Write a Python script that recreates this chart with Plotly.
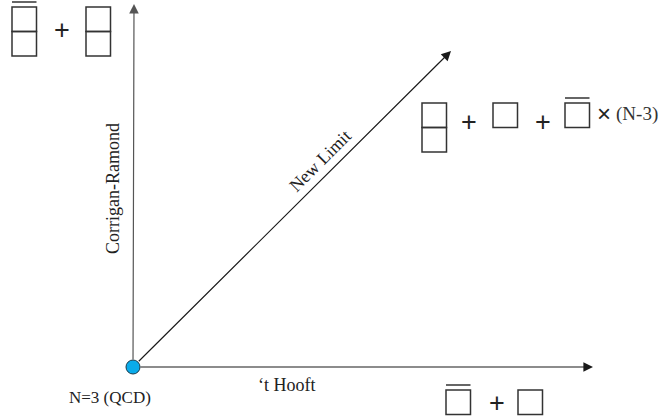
import plotly.graph_objects as go

# ---- diagram content ----
limit_names = ["\u2018t Hooft", "Corrigan-Ramond", "New Limit"]
limit_tips_x = [460, 1, 318]      # arrow tips (diagram units, origin = N=3 point)
limit_tips_y = [0, 363, 316]
origin_label = "N=3 (QCD)"
multiplier_text = "(N-3)"

# Young-diagram terms: (column height, antisymmetric bar?) per region
tl_terms = [(2, True), (2, False)]
right_terms = [(2, False), (1, False), (1, True)]
bottom_terms = [(1, True), (1, False)]

W, H = 663, 417
OX, OY = 133, 367  # origin pixel position

fig = go.Figure()
shapes = []
ann = []
LC = "#333333"
BOX = 24.5

def box_col(x0, ytop, n, bar):
    for i in range(n):
        shapes.append(dict(type="rect", x0=x0, x1=x0 + BOX, y0=ytop - (i + 1) * BOX,
                           y1=ytop - i * BOX, line=dict(color=LC, width=1.5),
                           fillcolor="rgba(0,0,0,0)"))
    if bar:
        shapes.append(dict(type="line", x0=x0, x1=x0 + BOX, y0=ytop + 5, y1=ytop + 5,
                           line=dict(color=LC, width=1.5)))

def plus(x, y):
    ann.append(dict(x=x, y=y, text="+", showarrow=False, height=22,
                    font=dict(family="Liberation Sans", size=27, color="#222")))

# top-left
box_col(-121, 360, tl_terms[0][0], tl_terms[0][1])
plus(-71, 337)
box_col(-47, 360, tl_terms[1][0], tl_terms[1][1])

# right
box_col(289, 264, right_terms[0][0], right_terms[0][1])
plus(336, 245)
box_col(360, 264, right_terms[1][0], right_terms[1][1])
plus(410, 245)
box_col(432, 264, right_terms[2][0], right_terms[2][1])
ann.append(dict(x=471, y=254, text="\u00d7", showarrow=False,
                font=dict(family="Liberation Sans", size=24, color="#222")))
ann.append(dict(x=504, y=253, text=multiplier_text, showarrow=False,
                font=dict(family="Liberation Serif", size=19, color="#333")))

# bottom
box_col(313, -23, bottom_terms[0][0], bottom_terms[0][1])
plus(364, -36)
box_col(385, -23, bottom_terms[1][0], bottom_terms[1][1])

# arrows
colors = ["#1a1a1a", "#555555", "#1a1a1a"]
for tx, ty, c in zip(limit_tips_x, limit_tips_y, colors):
    ann.append(dict(x=tx, y=ty, ax=0, ay=0, xref="x", yref="y", axref="x", ayref="y",
                    text="", showarrow=True, arrowhead=2, arrowsize=1.6,
                    arrowwidth=1.2, arrowcolor=c, standoff=0, startstandoff=6))

# labels
ann.append(dict(x=154, y=-18, text=limit_names[0], showarrow=False,
                font=dict(family="Liberation Serif", size=18, color="#222")))
ann.append(dict(x=-20, y=178, text=limit_names[1], showarrow=False, textangle=-90,
                font=dict(family="Liberation Serif", size=18, color="#222")))
ann.append(dict(x=187, y=206, text=limit_names[2], showarrow=False, textangle=-45,
                font=dict(family="Liberation Serif", size=18, color="#222")))
ann.append(dict(x=-23, y=-30, text=origin_label, showarrow=False,
                font=dict(family="Liberation Serif", size=17, color="#222")))

# origin dot
shapes.append(dict(type="circle", x0=-7, x1=7, y0=-7, y1=7, layer="above",
                   fillcolor="#0aabea", line=dict(color="#1a3a4a", width=1)))

fig.update_layout(
    width=W, height=H, autosize=False,
    margin=dict(l=0, r=0, t=0, b=0),
    paper_bgcolor="white", plot_bgcolor="white",
    shapes=shapes, annotations=ann, showlegend=False,
    xaxis=dict(range=[-OX, W - OX], visible=False, fixedrange=True),
    yaxis=dict(range=[OY - H, OY], visible=False, fixedrange=True),
)
fig.write_html("out.html", config={"displayModeBar": False},
               post_script="document.body.style.margin='0px';document.body.style.overflow='hidden';")
